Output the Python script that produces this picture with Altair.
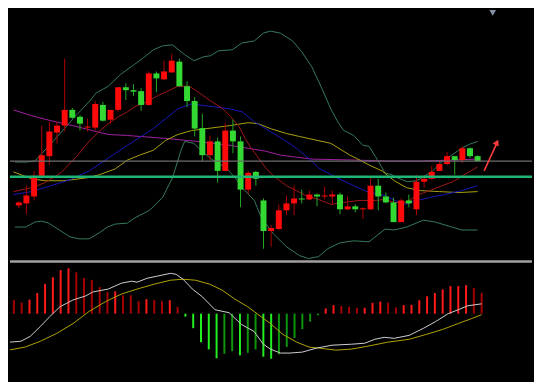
import altair as alt
import pandas as pd

# ---------------- candlestick data (chart units) ----------------
open_ = [55, 57, 64, 85, 105, 129, 136, 152, 145, 134,
         134, 157, 142, 152, 175, 172, 171, 157, 189, 183,
         190, 201, 176, 161, 133.5, 106, 120, 90, 131, 120,
         71, 89, 60, 29, 31, 50, 57, 62, 61, 66,
         64, 64, 66, 51, 54, 51, 51, 75, 64, 58,
         38, 60, 51, 79, 82, 90, 97, 105, 101, 113,
         105]
high = [59, 75, 90, 136, 140, 140, 204, 154, 147, 143,
        161, 160, 152, 175, 179, 178, 174, 191, 191, 202,
        209, 204, 181, 165, 148, 126, 124, 139, 142, 125,
        90, 90, 62, 35, 56, 65, 75, 71, 70, 67,
        74, 70, 68, 64, 56, 53, 84, 82, 68, 63,
        62, 66, 86, 84, 95, 100, 109, 105, 115, 114,
        106]
low = [52, 46, 60, 83, 96, 118, 130, 143, 131, 130,
       131, 140, 138, 150, 162, 166, 151, 156, 170, 182,
       190, 176, 155, 125, 100, 101, 78, 90, 108, 53,
       67, 75, 11, 13, 30, 45, 45, 57, 60, 54,
       61, 56, 46, 50, 48, 41, 50, 50, 57, 38,
       38, 53, 45, 73, 81, 90, 96, 86, 98, 103,
       100]
close = [58, 65, 85, 106, 130, 136, 152, 144, 138, 135,
         158, 141, 152, 175, 172, 170.5, 157, 189, 184, 191,
         202, 176, 161, 133, 106, 120, 90, 131, 120, 71,
         88, 82, 29, 32, 50, 57, 62, 61, 66, 64,
         65, 66, 51, 54, 51, 52, 75, 64, 58, 38,
         60, 57, 79, 82, 89, 97, 105, 101, 113, 105,
         100]

# ---------------- indicator lines (x = bar index, v = chart units) ----------------
boll_up_x = [-0.5, 1.0, 2.1, 4.6, 7.1, 9.5, 10.1, 11.7, 13.3, 15.1, 16.3, 17.6, 18.8, 20.1,
             21.7, 22.9, 24.2, 25.1, 26.1, 27.9, 29.2, 30.8, 32.0, 32.9, 34.2, 35.8, 37.0, 38.3,
             39.5, 40.8, 41.7, 42.5, 43.8, 45.0, 45.8, 46.6, 47.9, 48.8, 49.5, 50.8, 52.0, 52.9,
             54.1, 55.4, 56.6, 57.9, 58.9, 60.0]
boll_up_v = [99, 99, 100, 121, 143, 163, 169, 176, 188, 198, 205, 213, 217, 218,
             208, 202, 206, 207, 212, 213, 220, 222, 230, 232, 230, 222, 211, 196,
             176, 153, 140, 131, 126, 116, 115, 105, 88, 86, 83, 79, 80, 84,
             90, 100, 106, 113, 117, 120]

boll_dn_x = [-0.5, 0.9, 2.1, 3.0, 3.9, 5.1, 6.7, 7.9, 9.2, 10.5, 11.6, 12.6, 14.2, 15.1, 17.1,
             18.8, 20.1, 21.3, 21.7, 22.9, 24.2, 25.4, 27.1, 28.3, 29.2, 30.8, 31.7, 33.3, 35.0,
             36.7, 37.9, 39.2, 40.4, 42.0, 43.8, 45.8, 47.9, 49.1, 50.7, 52.9, 54.5, 56.2, 57.9,
             60.0]
boll_dn_v = [33, 33, 38, 39, 37, 31, 23, 21, 21, 27, 33, 36, 37, 42, 50,
             63, 83, 113, 120, 118, 108, 101, 93, 83, 73, 60, 43, 26, 13,
             4, 1, 3, 11, 17, 19, 18, 31, 30, 33, 40, 38, 34, 30,
             30]

ma_red_x = [-0.7, 1.7, 3.4, 5.5, 7.6, 9.2, 10.5, 11.7, 13.0, 14.2, 15.1, 16.7, 18.3, 19.2, 20.8,
            22.3, 23.3, 25.1, 26.7, 27.6, 28.8, 29.6, 30.4, 32.3, 33.3, 35.0, 36.3, 37.5, 39.2,
            40.8, 42.5, 44.5, 46.6, 47.9, 49.1, 50.7, 52.0, 53.7, 55.4, 57.0, 58.2, 60.0]
ma_red_v = [69, 73, 78, 88, 105, 120, 130, 138, 145, 150, 155, 160, 167, 170, 176,
            176, 171, 161, 153, 146, 135, 123, 113, 93, 85, 75, 70, 65, 61,
            56, 58, 60, 60, 61, 58, 58, 65, 70, 75, 80, 86, 94]

ma_blue_x = [-0.7, 1.7, 4.2, 6.7, 9.2, 11.7, 14.2, 17.6, 19.2, 20.8, 22.6, 24.6, 27.6, 29.2,
             30.8, 32.9, 35.0, 36.3, 38.3, 39.2, 41.6, 43.8, 45.8, 47.9, 49.1, 50.7, 51.6,
             53.7, 55.7, 57.9, 60.0]
ma_blue_v = [66, 69, 75, 81, 90, 103, 116, 133, 143, 153, 158, 156, 153, 150,
             140, 130, 120, 113, 100, 93, 83, 75, 68, 65, 60, 56, 59,
             63, 66, 70, 75]

ma_yel_x = [-0.7, 1.7, 3.4, 5.9, 8.9, 10.5, 12.6, 14.2, 15.8, 17.6, 19.2, 20.8, 22.6, 24.6,
            27.6, 30.0, 31.3, 32.9, 35.0, 36.7, 40.8, 43.3, 44.1, 45.8, 47.5, 49.1, 50.7, 52.5,
            55.0, 57.5, 60.0]
ma_yel_v = [89, 82, 80, 80, 83, 86, 92, 101, 106, 111, 121, 127, 131, 133,
            136, 139, 138, 133, 128, 125, 118, 106, 103, 96, 90, 80, 73, 70,
            69, 68, 69]

ma_pur_x = [-0.7, 1.7, 4.2, 7.6, 10.1, 11.7, 14.2, 19.2, 23.3, 27.6, 30.0, 32.3, 34.2, 38.3,
            44.1, 48.3, 52.5, 56.6, 60.0]
ma_pur_v = [152, 146, 141, 135, 130, 127, 126, 123, 120, 116, 113, 110, 106, 102,
            101, 100, 100, 101, 102]

levels_v = [100, 84]
levels_c = ["#6e6e6e", "#1fb574"]
levels_w = [1.2, 2.5]

arrow_x = [60.85, 62.62]
arrow_v = [90, 120]
marker_x = [61.97]
marker_v = [250.5]

# ---------------- MACD panel ----------------
hist = [13.7, 11.3, 14.3, 21, 30.3, 37, 44.3, 46, 42, 36.3,
        34.3, 27, 22, 22.7, 18.7, 18.7, 12.7, 14.7, 13.7, 12.7,
        13.7, 7, -3, -14.7, -29, -36.3, -45.3, -40.7, -38, -42.3,
        -39.7, -36.3, -43.7, -45.7, -41.3, -33.7, -24.7, -15.7, -8, -1.7,
        5.3, 8.7, 7.7, 7, 6, 6, 11, 12.3, 11.3, 6.3,
        8.7, 9, 13.7, 17.7, 21, 24.7, 28, 28, 29, 26,
        21]
shade = list("ddbbbbbbdd" "dddbdddbdd" "bdbbbbbddb" "ddbbdddddd" "bbdddbbbdd" "bbbbbbbbbd" "d")

dif_x = [-0.7, 0.9, 2.1, 3.4, 4.6, 5.9, 7.6, 9.2, 10.1, 12.1, 13.8, 15.1, 15.8, 17.1, 18.3,
         20.1, 20.8, 21.7, 22.9, 24.2, 25.8, 27.6, 29.2, 30.8, 32.0, 32.9, 34.2, 35.4, 37.0,
         38.8, 40.8, 43.3, 45.0, 46.3, 47.5, 48.8, 50.7, 52.5, 54.1, 55.7, 57.0, 58.2, 60.0]
dif_v = [-29, -28, -23, -13, -3, 7, 14, 18, 22, 25, 31, 33, 32, 36, 38,
         41, 40, 35, 25, 17, 4, 1, -11, -18, -31, -36, -40, -40, -39,
         -35, -32, -31, -30, -26, -24, -25, -22, -15, -8, 0, 4, 8, 10]

dea_x = [-0.7, 1.4, 3.4, 5.5, 7.6, 9.6, 11.7, 13.8, 15.8, 18.0, 20.1, 21.7, 23.3, 25.1, 26.7,
         28.3, 30.0, 31.7, 32.9, 34.5, 36.3, 37.9, 39.2, 41.3, 43.3, 45.4, 47.9, 50.7, 52.9,
         55.0, 57.0, 58.7, 60.0]
dea_v = [-37, -34, -28, -20, -10, 2, 12, 20, 25, 30, 34, 35, 34, 30, 24,
         15, 7, -3, -10, -21, -29, -34, -35, -37, -36, -33, -29, -26, -21,
         -16, -10, -5, -1]

# ---------------- chart ----------------
W = 526
H_MAIN = 249
H_MACD = 125
xscale = alt.Scale(domain=[-0.5, 66.46], nice=False, zero=False)
yscale = alt.Scale(domain=[0, 251], nice=False, zero=False)
mscale = alt.Scale(domain=[-72, 54], nice=False, zero=False)


def X(field):
    return alt.X(field, type="quantitative", scale=xscale, axis=None)


def Y(field, scale):
    return alt.Y(field, type="quantitative", scale=scale, axis=None)


def line(xs, vs, color, scale, width=1.0):
    df = pd.DataFrame({"x": xs, "v": vs, "o": list(range(len(xs)))})
    return alt.Chart(df).mark_line(color=color, strokeWidth=width, clip=True).encode(
        x=X("x"), y=Y("v", scale), order="o:Q")


cdf = pd.DataFrame({"i": list(range(len(open_))), "open": open_, "high": high,
                    "low": low, "close": close})
cdf["body"] = ["#ff0a0a" if c >= o else "#33d833" for o, c in zip(open_, close)]
cdf["wick"] = ["#b00000" if c >= o else "#22a822" for o, c in zip(open_, close)]

wicks = alt.Chart(cdf).mark_rule(strokeWidth=1).encode(
    x=X("i"), y=Y("low", yscale), y2="high", color=alt.Color("wick:N", scale=None))
bodies = alt.Chart(cdf).mark_bar(size=6).encode(
    x=X("i"), y=Y("open", yscale), y2="close", color=alt.Color("body:N", scale=None))

lv = pd.DataFrame({"v": levels_v, "c": levels_c, "w": levels_w})
levels = alt.Chart(lv).mark_rule().encode(
    y=Y("v", yscale), color=alt.Color("c:N", scale=None),
    strokeWidth=alt.StrokeWidth("w:Q", scale=None))

adf = pd.DataFrame({"x": [arrow_x[0]], "x2": [arrow_x[1]], "v": [arrow_v[0]], "v2": [arrow_v[1]]})
arrow = alt.Chart(adf).mark_rule(color="#ff3b3b", strokeWidth=1.6).encode(
    x=X("x"), x2="x2", y=Y("v", yscale), y2="v2")
head = alt.Chart(pd.DataFrame({"x": [arrow_x[1] - 0.1], "v": [arrow_v[1] - 1]})).mark_point(
    shape="triangle-up", filled=True, size=45, angle=26, color="#ff3b3b", opacity=1).encode(
    x=X("x"), y=Y("v", yscale))
marker = alt.Chart(pd.DataFrame({"x": marker_x, "v": marker_v})).mark_point(
    shape="triangle-down", filled=True, size=45, color="#8393a8", opacity=1).encode(
    x=X("x"), y=Y("v", yscale))

main = alt.layer(
    line(boll_up_x, boll_up_v, "#357a5a", yscale),
    line(boll_dn_x, boll_dn_v, "#357a5a", yscale),
    line(ma_pur_x, ma_pur_v, "#a020a0", yscale),
    line(ma_yel_x, ma_yel_v, "#aaa010", yscale),
    line(ma_blue_x, ma_blue_v, "#1818b8", yscale),
    line(ma_red_x, ma_red_v, "#a01818", yscale),
    wicks, bodies, levels, arrow, head, marker,
).properties(width=W, height=H_MAIN)

hdf = pd.DataFrame({"i": list(range(len(hist))), "h": hist, "z": [0] * len(hist)})
palette = {("p", "b"): "#ff1a1a", ("p", "d"): "#a80000",
           ("n", "b"): "#22ee22", ("n", "d"): "#0c960c"}
hdf["c"] = [palette[("p" if h >= 0 else "n", s)] for h, s in zip(hist, shade)]
bars = alt.Chart(hdf).mark_rule(strokeWidth=2).encode(
    x=X("i"), y=Y("z", mscale), y2="h", color=alt.Color("c:N", scale=None))
sep = alt.Chart(pd.DataFrame({"v": [53]})).mark_rule(color="#a0a0a0", strokeWidth=2.5).encode(
    y=Y("v", mscale))

macd = alt.layer(
    bars,
    line(dea_x, dea_v, "#b0a400", mscale),
    line(dif_x, dif_v, "#cfcfcf", mscale),
    sep,
).properties(width=W, height=H_MACD)

chart = alt.vconcat(main, macd, spacing=0).properties(
    background="#000000", padding=0).configure_view(stroke=None)

chart.save("out.html", embed_options={"renderer": "svg", "actions": False})
